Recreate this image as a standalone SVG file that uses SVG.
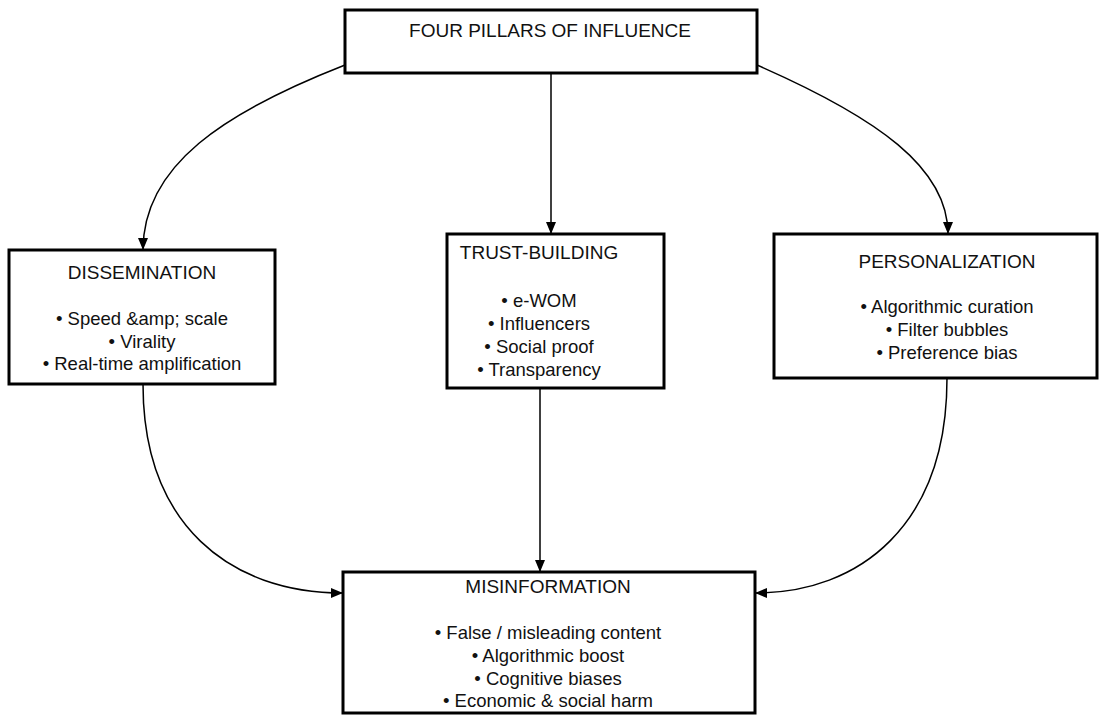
<svg xmlns="http://www.w3.org/2000/svg" width="1113" height="715" viewBox="0 0 1113 715">
<style>
.box{fill:#fff;stroke:#000;stroke-width:3}
.t{font-family:"Liberation Sans",Arial,sans-serif;font-size:18.5px;fill:#111;text-anchor:middle}
.h{font-size:19px}
.c{fill:none;stroke:#000;stroke-width:1.5}
</style>
<defs>
<marker id="ah" viewBox="0 0 12 10" refX="12" refY="5" markerWidth="12" markerHeight="10" markerUnits="userSpaceOnUse" orient="auto">
<path d="M0,0 L12,5 L0,10 Z" fill="#000"/>
</marker>
</defs>
<rect width="1113" height="715" fill="#fff"/>
<g id="connectors">
<path class="c" d="M345,65 C225,112 143,165 143,250" marker-end="url(#ah)"/>
<path class="c" d="M551,73 L551,234" marker-end="url(#ah)"/>
<path class="c" d="M757,65 C878,118 948,168 948,234" marker-end="url(#ah)"/>
<path class="c" d="M143,384 C143,525 230,593 343,593" marker-end="url(#ah)"/>
<path class="c" d="M540,388 L540,572" marker-end="url(#ah)"/>
<path class="c" d="M947,378 C947,525 860,593 755,593" marker-end="url(#ah)"/>
</g>
<g id="top">
<rect class="box" x="345" y="10" width="412" height="63"/>
<text class="t h" x="550" y="37">FOUR PILLARS OF INFLUENCE</text>
</g>
<g id="dissemination">
<rect class="box" x="9" y="250" width="266" height="134"/>
<text class="t h" x="142" y="279">DISSEMINATION</text>
<text class="t" x="142" y="325">• Speed &amp;amp; scale</text>
<text class="t" x="142" y="348">• Virality</text>
<text class="t" x="142" y="370">• Real-time amplification</text>
</g>
<g id="trust">
<rect class="box" x="447" y="234" width="217" height="154"/>
<text class="t h" x="539" y="259">TRUST-BUILDING</text>
<text class="t" x="539" y="307">• e-WOM</text>
<text class="t" x="539" y="330">• Influencers</text>
<text class="t" x="539" y="353">• Social proof</text>
<text class="t" x="539" y="376">• Transparency</text>
</g>
<g id="personalization">
<rect class="box" x="774" y="234" width="323" height="144"/>
<text class="t h" x="947" y="268">PERSONALIZATION</text>
<text class="t" x="947" y="313">• Algorithmic curation</text>
<text class="t" x="947" y="336">• Filter bubbles</text>
<text class="t" x="947" y="359">• Preference bias</text>
</g>
<g id="misinformation">
<rect class="box" x="343" y="572" width="412" height="141"/>
<text class="t h" x="548" y="593">MISINFORMATION</text>
<text class="t" x="548" y="639">• False / misleading content</text>
<text class="t" x="548" y="662">• Algorithmic boost</text>
<text class="t" x="548" y="685">• Cognitive biases</text>
<text class="t" x="548" y="707">• Economic &amp; social harm</text>
</g>
</svg>
